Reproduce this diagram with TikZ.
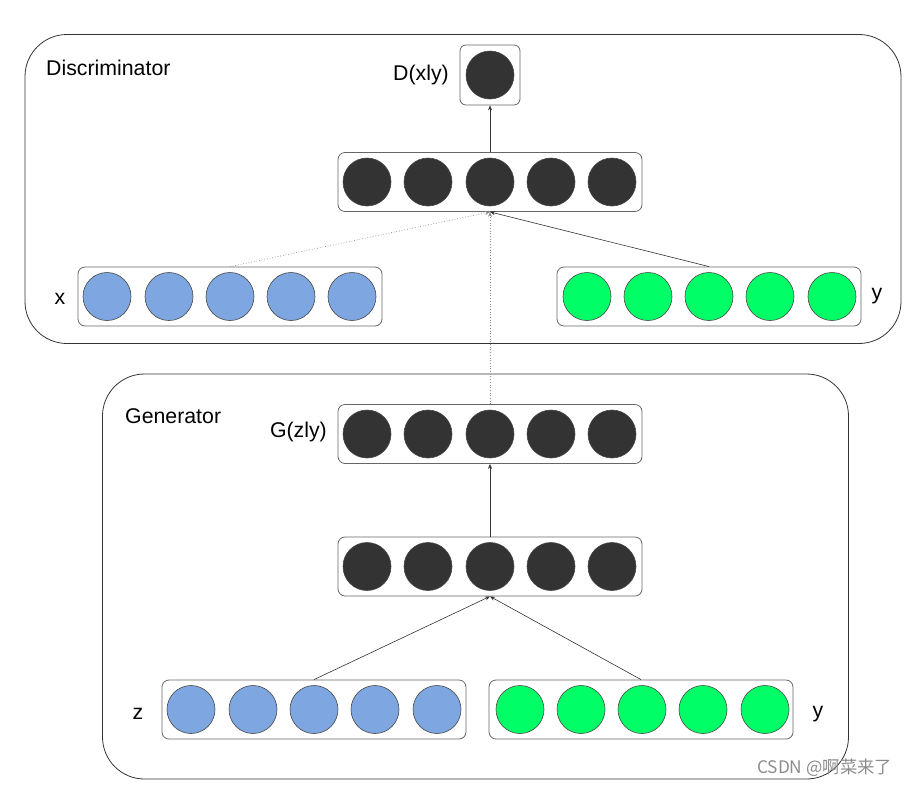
\documentclass[tikz,border=0pt]{standalone}
\usepackage{fontspec}
\setmainfont{Liberation Sans}
\newfontfamily\cjkfont{Noto Sans CJK SC}
\usetikzlibrary{arrows.meta}
\definecolor{dark}{HTML}{333333}
\definecolor{blueN}{HTML}{7EA6E0}
\definecolor{greenN}{HTML}{00FF66}
\definecolor{edgegray}{HTML}{666666}
\tikzset{
  bigbox/.style={draw=black!80, line width=0.8pt, rounded corners=42pt, inner sep=0pt},
  layerbox/.style={draw=edgegray, line width=0.8pt, rounded corners=7pt, minimum width=304pt, minimum height=59pt, inner sep=0pt},
  neuron/.style={circle, draw=dark!90, line width=0.6pt, minimum size=48pt, inner sep=0pt},
  blackN/.style={neuron, fill=dark},
  blueNeuron/.style={neuron, fill=blueN},
  greenNeuron/.style={neuron, fill=greenN},
  lbl/.style={font=\fontsize{21.3pt}{24pt}\selectfont, text=black, inner sep=0pt},
  conn/.style={draw=dark, line width=0.6pt, -{Stealth[length=5pt,width=4pt]}},
  dotconn/.style={draw=black!45, line width=0.7pt, dotted, -{Stealth[length=5pt,width=4pt]}},
}
\begin{document}
\begin{tikzpicture}[x=1pt,y=-1pt]
\useasboundingbox (0,0) rectangle (907,785);
% big boxes
\node[bigbox, minimum width=876pt, minimum height=309pt] (disc) at (463,189) {};
\node[bigbox, minimum width=746pt, minimum height=405pt] (gen) at (475.5,576.5) {};
\node[lbl, anchor=west] (disclbl) at (46,68) {Discriminator};
\node[lbl, anchor=west] (genlbl) at (125,416) {Generator};
% D output
\node[draw=edgegray, line width=0.8pt, rounded corners=6pt, minimum size=60pt, inner sep=0pt] (dout) at (490,75) {};
\node[blackN] (doutc) at (490,75) {};
\node[lbl, anchor=east] (doutlbl) at (449,75) {D(xly)};
% D hidden
\node[layerbox] (dh) at (490,182) {};
\foreach \i/\x in {1/367,2/428,3/490,4/551,5/612}{\node[blackN] (dh\i) at (\x,182) {};}
% x layer
\node[layerbox] (xl) at (230,296.5) {};
\foreach \i/\x in {1/107,2/169,3/230,4/291,5/352}{\node[blueNeuron] (xl\i) at (\x,296.5) {};}
\node[lbl] (xlbl) at (60,299) {x};
% y layer (D)
\node[layerbox] (yd) at (709,296.5) {};
\foreach \i/\x in {1/587,2/648,3/709,4/770,5/832}{\node[greenNeuron] (yd\i) at (\x,296.5) {};}
\node[lbl] (ydlbl) at (877,296) {y};
% G output
\node[layerbox] (go) at (490,434) {};
\foreach \i/\x in {1/367,2/428,3/490,4/551,5/612}{\node[blackN] (go\i) at (\x,434) {};}
\node[lbl, anchor=east] (golbl) at (327,432) {G(zly)};
% G hidden
\node[layerbox] (gh) at (490,566.5) {};
\foreach \i/\x in {1/367,2/428,3/490,4/551,5/612}{\node[blackN] (gh\i) at (\x,566.5) {};}
% z layer
\node[layerbox] (zl) at (314,709.5) {};
\foreach \i/\x in {1/191,2/253,3/314,4/375,5/437}{\node[blueNeuron] (zl\i) at (\x,709.5) {};}
\node[lbl] (zlbl) at (138,714) {z};
% y layer (G)
\node[layerbox] (yg) at (641,709.5) {};
\foreach \i/\x in {1/520,2/581,3/642,4/703,5/765}{\node[greenNeuron] (yg\i) at (\x,709.5) {};}
\node[lbl] (yglbl) at (818,714) {y};
% connectors
\draw[conn] (dh.north) -- (dout.south);
\draw[dotconn] (xl.north) -- (dh.south);
\draw[dotconn] (go.north) -- (dh.south);
\draw[conn] (yd.north) -- (dh.south);
\draw[conn] (gh.north) -- (go.south);
\draw[conn] (zl.north) -- (gh.south);
\draw[conn] (yg.north) -- (gh.south);
% watermark
\node[text=black!45, font=\cjkfont\fontsize{17.3pt}{19pt}\selectfont, anchor=west, inner sep=0pt] (wm) at (757,768) {CSDN @啊菜来了};
\end{tikzpicture}
\end{document}
